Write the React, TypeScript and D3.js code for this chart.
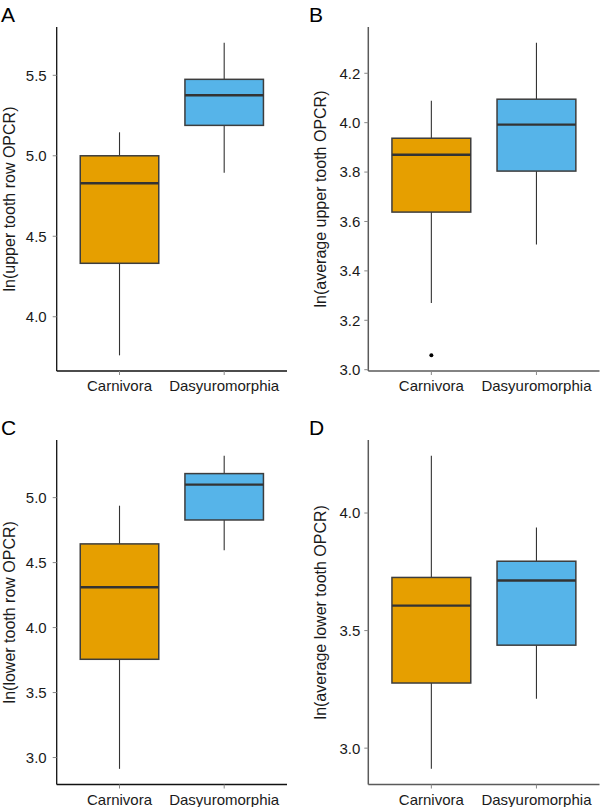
import React from "react";
import * as d3 from "d3";

// ---- Data ----
const categories = ["Carnivora", "Dasyuromorphia"];
const fills = ["#E69F00", "#56B4E9"];

// [lower whisker, Q1, median, Q3, upper whisker]
const upperRowStats = [
  [3.76, 4.332, 4.829, 5.0, 5.146],
  [4.895, 5.189, 5.376, 5.475, 5.703],
];
const upperRowOutliers = [[], []];
const upperRowTicks = [4.0, 4.5, 5.0, 5.5];

const avgUpperStats = [
  [3.27, 3.638, 3.87, 3.937, 4.089],
  [3.507, 3.804, 3.992, 4.095, 4.324],
];
const avgUpperOutliers = [[3.058], []];
const avgUpperTicks = [3.0, 3.2, 3.4, 3.6, 3.8, 4.0, 4.2];

const lowerRowStats = [
  [2.913, 3.756, 4.31, 4.644, 4.938],
  [4.595, 4.828, 5.1, 5.185, 5.323],
];
const lowerRowOutliers = [[], []];
const lowerRowTicks = [3.0, 3.5, 4.0, 4.5, 5.0];

const avgLowerStats = [
  [2.912, 3.277, 3.606, 3.726, 4.244],
  [3.21, 3.438, 3.713, 3.795, 3.938],
];
const avgLowerOutliers = [[], []];
const avgLowerTicks = [3.0, 3.5, 4.0];

const panelLetters = ["A", "B", "C", "D"];
const yTitles = [
  "ln(upper tooth row OPCR)",
  "ln(average upper tooth OPCR)",
  "ln(lower tooth row OPCR)",
  "ln(average lower tooth OPCR)",
];

// ---- Layout ----
const W = 600;
const H = 807;
const FONT = "'Liberation Sans', Arial, Helvetica, sans-serif";

type PanelProps = {
  letter: string;
  title: string;
  stats: number[][];
  outliers: number[][];
  ticks: number[];
  left: number;
  right: number;
  top: number;
  bottom: number;
  axisColor: string;
  axisWidth: number;
  labelGap: number;
  letterX: number;
};

function Panel(p: PanelProps) {
  const all: number[] = [];
  p.stats.forEach((s) => all.push(s[0], s[4]));
  p.outliers.forEach((o) => o.forEach((v) => all.push(v)));
  const [mn, mx] = d3.extent(all) as [number, number];
  const pad = (mx - mn) * 0.05;
  const y = d3.scaleLinear().domain([mn - pad, mx + pad]).range([p.bottom, p.top]);
  const x = d3.scalePoint<string>().domain(categories).range([p.left, p.right]).padding(0.6);
  const step = x.step();
  const bw = step * 0.75;
  const tickLen = 4;
  const cy = (p.top + p.bottom) / 2;

  return (
    <g>
      <text x={p.letterX} y={p.top - 5} fontSize={21} fontFamily={FONT} fill="#000">
        {p.letter}
      </text>
      {/* boxes */}
      {categories.map((c, i) => {
        const s = p.stats[i];
        const cx = x(c) as number;
        return (
          <g key={c}>
            <line x1={cx} x2={cx} y1={y(s[0])} y2={y(s[1])} stroke="#333" strokeWidth={1.1} />
            <line x1={cx} x2={cx} y1={y(s[3])} y2={y(s[4])} stroke="#333" strokeWidth={1.1} />
            <rect
              x={cx - bw / 2}
              y={y(s[3])}
              width={bw}
              height={y(s[1]) - y(s[3])}
              fill={fills[i]}
              stroke="#3d3d3d"
              strokeWidth={1.5}
            />
            <line x1={cx - bw / 2} x2={cx + bw / 2} y1={y(s[2])} y2={y(s[2])} stroke="#333" strokeWidth={2.4} />
            {p.outliers[i].map((v, k) => (
              <circle key={k} cx={cx} cy={y(v)} r={2} fill="#000" />
            ))}
          </g>
        );
      })}
      {/* y axis */}
      <line x1={p.left} x2={p.left} y1={p.top} y2={p.bottom} stroke={p.axisColor} strokeWidth={p.axisWidth} />
      {p.ticks.map((t) => (
        <g key={t}>
          <line x1={p.left - tickLen} x2={p.left} y1={y(t)} y2={y(t)} stroke="#888" strokeWidth={1} />
          <text
            x={p.left - p.labelGap}
            y={y(t)}
            dy="0.36em"
            textAnchor="end"
            fontSize={15}
            fontFamily={FONT}
            fill="#1a1a1a"
          >
            {t.toFixed(1)}
          </text>
        </g>
      ))}
      {/* x axis */}
      <line x1={p.left} x2={p.right} y1={p.bottom} y2={p.bottom} stroke={p.axisColor} strokeWidth={p.axisWidth} />
      {categories.map((c) => (
        <g key={c}>
          <line x1={x(c)} x2={x(c)} y1={p.bottom} y2={p.bottom + tickLen} stroke="#888" strokeWidth={1} />
          <text
            x={x(c)}
            y={p.bottom + 20}
            textAnchor="middle"
            fontSize={15}
            fontFamily={FONT}
            fill="#1a1a1a"
          >
            {c}
          </text>
        </g>
      ))}
      <text
        transform={`translate(${p.left - 42},${cy}) rotate(-90)`}
        textAnchor="middle"
        fontSize={16}
        fontFamily={FONT}
        fill="#1a1a1a"
      >
        {p.title}
      </text>
    </g>
  );
}

export default function App() {
  const leftCol = { left: 56.7, right: 287, axisColor: "#111", axisWidth: 1.3, labelGap: 10, letterX: 1 };
  const rightCol = { left: 368.3, right: 599.5, axisColor: "#5a5a5a", axisWidth: 1.5, labelGap: 8, letterX: 309 };
  const topRow = { top: 27, bottom: 371 };
  const botRow = { top: 440, bottom: 784.5 };
  return (
    <svg
      width={W}
      height={H}
      viewBox={`0 0 ${W} ${H}`}
      style={{ position: "absolute", left: 0, top: 0, background: "#fff" }}
    >
      <rect width={W} height={H} fill="#fff" />
      <Panel letter={panelLetters[0]} title={yTitles[0]} stats={upperRowStats} outliers={upperRowOutliers} ticks={upperRowTicks} {...leftCol} {...topRow} />
      <Panel letter={panelLetters[1]} title={yTitles[1]} stats={avgUpperStats} outliers={avgUpperOutliers} ticks={avgUpperTicks} {...rightCol} {...topRow} />
      <Panel letter={panelLetters[2]} title={yTitles[2]} stats={lowerRowStats} outliers={lowerRowOutliers} ticks={lowerRowTicks} {...leftCol} {...botRow} />
      <Panel letter={panelLetters[3]} title={yTitles[3]} stats={avgLowerStats} outliers={avgLowerOutliers} ticks={avgLowerTicks} {...rightCol} {...botRow} />
    </svg>
  );
}
